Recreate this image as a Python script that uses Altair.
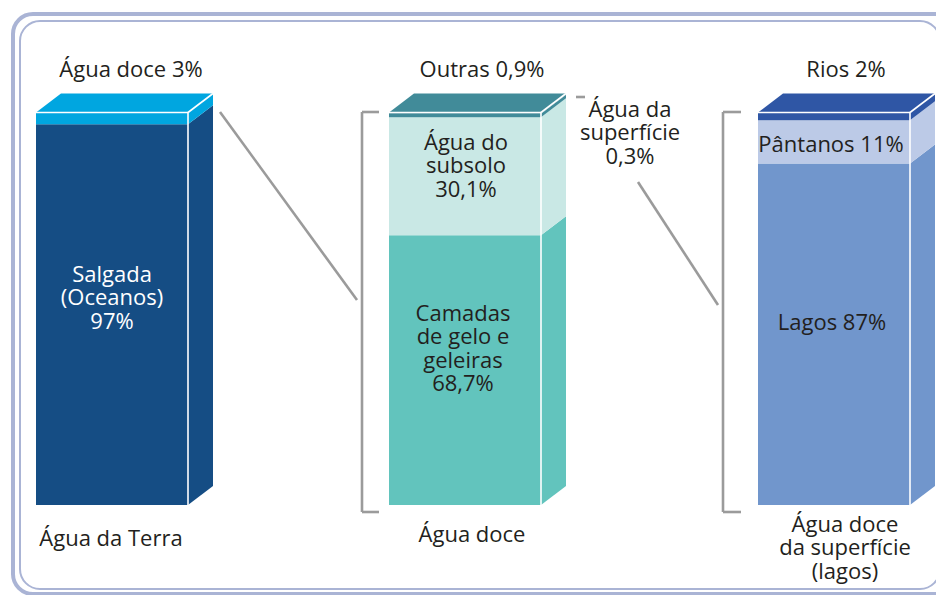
import altair as alt
import pandas as pd

# ---------------- data ----------------
bar_titles = ["Água da Terra", "Água doce", "Água doce\nda superfície\n(lagos)"]

b1_names = ["Salgada (Oceanos)", "Água doce"]
b1_vals = [97, 3]
b2_names = ["Camadas de gelo e geleiras", "Água do subsolo", "Outras", "Água da superfície"]
b2_vals = [68.7, 30.1, 0.9, 0.3]
b3_names = ["Lagos", "Pântanos", "Rios"]
b3_vals = [87, 11, 2]

b1_colors = ["#154d84", "#00a6e0"]
b2_colors = ["#62c4bd", "#c9e8e5", "#418b99", "#367f8f"]
b3_colors = ["#7196cc", "#bccae7", "#2f56a5"]

# ---------------- layout ----------------
W, H = 928, 587
K = 3.925          # px per percentage point
BOTTOM = 505       # page y of bar bottoms
LEFT = [36, 389, 758]
BAR_W = 152
DX, DY = 25, 19


def V(py):
    return (BOTTOM - py) / K


DV = DY / K
xs = alt.Scale(domain=[8, 8 + W], nice=False, zero=False)
ys = alt.Scale(domain=[V(8 + H), V(8)], nice=False, zero=False)

series = [(b1_names, b1_vals, b1_colors), (b2_names, b2_vals, b2_colors), (b3_names, b3_vals, b3_colors)]

front, side, top, edges = [], [], [], []
for bi, (names, vals, cols) in enumerate(series):
    L = LEFT[bi]
    R = L + BAR_W
    lo = 0.0
    for n, v, c in zip(names, vals, cols):
        hi = lo + v
        sid = f"{bi}-{n}"
        front.append(dict(id=sid, x=L, x2=R, y=lo, y2=hi, color=c))
        side.append(dict(id=sid, x=R, y=lo, y2=hi, color=c))
        side.append(dict(id=sid, x=R + DX, y=lo + DV, y2=hi + DV, color=c))
        lo = hi
    tot = lo
    tc = cols[-2] if bi == 1 else cols[-1]
    top.append(dict(id=bi, y=tot, x=L, x2=R, color=tc))
    top.append(dict(id=bi, y=tot + DV, x=L + DX, x2=R + DX, color=tc))
    edges.append(dict(x=L, x2=R, y=tot, y2=tot))
    edges.append(dict(x=R, x2=R, y=0, y2=tot))
    edges.append(dict(x=R, x2=R + DX, y=tot, y2=tot + DV))

front = pd.DataFrame(front)
side = pd.DataFrame(side)
top = pd.DataFrame(top)
edges = pd.DataFrame(edges)

FONT = "Open Sans"
FS = 22
LH = 23.3
DARK = "#231f20"

# y = centre of the first line of each label (page pixels)
labels = pd.DataFrame([
    dict(t="Água doce 3%", x=131, y=70, c=DARK),
    dict(t="Salgada\n(Oceanos)\n97%", x=112, y=275, c="#ffffff"),
    dict(t=bar_titles[0], x=111, y=539, c=DARK),
    dict(t="Outras 0,9%", x=482, y=70, c=DARK),
    dict(t="Água do\nsubsolo\n30,1%", x=466, y=143, c=DARK),
    dict(t="Camadas\nde gelo e\ngeleiras\n68,7%", x=463, y=314, c=DARK),
    dict(t=bar_titles[1], x=472, y=535, c=DARK),
    dict(t="Água da\nsuperfície\n0,3%", x=630, y=110, c=DARK),
    dict(t="Rios 2%", x=846, y=70, c=DARK),
    dict(t="Pântanos 11%", x=831, y=145, c=DARK),
    dict(t="Lagos 87%", x=832, y=323, c=DARK),
    dict(t=bar_titles[2], x=845, y=525, c=DARK),
])
labels["y"] = labels["y"].map(V)

GRAY = "#9b9b9b"
guides = pd.DataFrame([
    dict(x=220, x2=357, y=112, y2=300),
    dict(x=638, x2=718, y=182, y2=305),
    dict(x=362, x2=362, y=112, y2=512),
    dict(x=362, x2=379, y=112, y2=112),
    dict(x=362, x2=379, y=512, y2=512),
    dict(x=723, x2=723, y=112, y2=512),
    dict(x=723, x2=741, y=112, y2=112),
    dict(x=723, x2=741, y=512, y2=512),
    dict(x=576, x2=585, y=97, y2=97),
])
for col in ["y", "y2"]:
    guides[col] = guides[col].map(V)

frames = pd.DataFrame([
    dict(x=13, x2=975, y=V(14), y2=V(594), w=4),
    dict(x=20, x2=940, y=V(21), y2=V(589), w=2),
])

FRAME_C = "#aab4d5"

frame_layer = alt.Chart(frames).mark_rect(fillOpacity=0, stroke=FRAME_C, cornerRadius=20).encode(
    x=alt.X("x:Q", scale=xs, axis=None), x2="x2:Q",
    y=alt.Y("y:Q", scale=ys, axis=None), y2="y2:Q",
    strokeWidth=alt.StrokeWidth("w:Q", scale=None),
)

front_layer = alt.Chart(front).mark_rect().encode(
    x=alt.X("x:Q", scale=xs, axis=None), x2="x2:Q",
    y=alt.Y("y:Q", scale=ys, axis=None), y2="y2:Q",
    color=alt.Color("color:N", scale=None),
)

side_layer = alt.Chart(side).mark_area(interpolate="linear").encode(
    x=alt.X("x:Q", scale=xs, axis=None),
    y=alt.Y("y:Q", scale=ys, axis=None, stack=None), y2="y2:Q",
    color=alt.Color("color:N", scale=None),
    detail="id:N",
)

top_layer = alt.Chart(top).mark_area(orient="horizontal", interpolate="linear").encode(
    y=alt.Y("y:Q", scale=ys, axis=None),
    x=alt.X("x:Q", scale=xs, axis=None, stack=None), x2="x2:Q",
    color=alt.Color("color:N", scale=None),
    detail="id:N",
)

edge_layer = alt.Chart(edges).mark_rule(color="white", strokeWidth=1.6).encode(
    x=alt.X("x:Q", scale=xs, axis=None), x2="x2:Q",
    y=alt.Y("y:Q", scale=ys, axis=None), y2="y2:Q",
)

guide_layer = alt.Chart(guides).mark_rule(color=GRAY, strokeWidth=2.6).encode(
    x=alt.X("x:Q", scale=xs, axis=None), x2="x2:Q",
    y=alt.Y("y:Q", scale=ys, axis=None), y2="y2:Q",
)

text_layer = alt.Chart(labels).mark_text(
    font=FONT, fontSize=FS, lineHeight=LH, lineBreak="\n", align="center", baseline="middle"
).encode(
    x=alt.X("x:Q", scale=xs, axis=None),
    y=alt.Y("y:Q", scale=ys, axis=None),
    text="t:N",
    color=alt.Color("c:N", scale=None),
)

chart = alt.layer(
    frame_layer, guide_layer, front_layer, side_layer, top_layer, edge_layer, text_layer
).properties(
    width=W, height=H, padding=0, autosize=alt.AutoSizeParams(type="none"),
    background="white",
).configure_view(strokeWidth=0)

chart.save("out.html", embed_options={"renderer": "svg", "actions": False})
